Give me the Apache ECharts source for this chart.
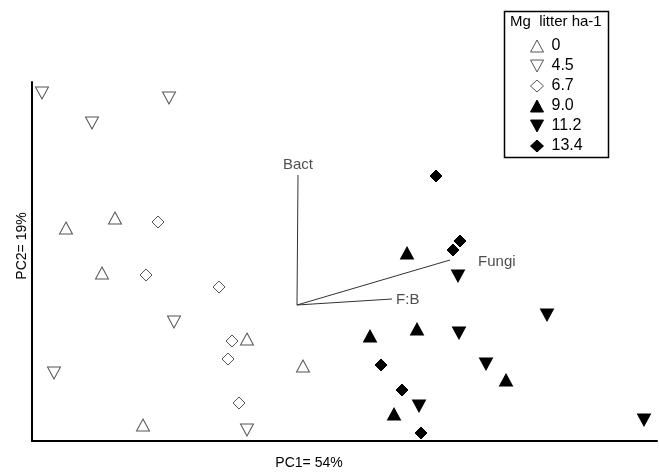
<!DOCTYPE html>
<html>
<head>
<meta charset="utf-8">
<title>PCA biplot</title>
<script src="https://cdn.jsdelivr.net/npm/echarts@6/dist/echarts.min.js"></script>
<style>
  html, body { margin: 0; padding: 0; background: #fff; }
  #chart { width: 659px; height: 474px; }
</style>
</head>
<body>
<div id="chart"></div>
<script>
// Litter treatment groups (Mg litter ha-1) and their PC scores [PC1, PC2]
const groupNames = ['0', '4.5', '6.7', '9.0', '11.2', '13.4'];

const scores0 = [[-2.31, 0.77], [-1.82, 0.87], [-1.95, 0.32], [-0.50, -0.34], [0.06, -0.61], [-1.54, -1.20]];
const scores45 = [[-2.55, 2.12], [-1.28, 2.07], [-2.05, 1.82], [-1.23, -0.17], [-2.43, -0.68], [-0.50, -1.25]];
const scores67 = [[-1.39, 0.83], [-1.51, 0.30], [-0.78, 0.18], [-0.65, -0.36], [-0.69, -0.54], [-0.58, -0.98]];
const scores90 = [[1.10, 0.52], [0.73, -0.31], [1.20, -0.24], [2.09, -0.75], [0.97, -1.09]];
const scores112 = [[1.61, 0.29], [2.50, -0.10], [1.62, -0.28], [1.89, -0.59], [1.22, -1.01], [3.47, -1.15]];
const scores134 = [[1.39, 1.29], [1.63, 0.64], [1.56, 0.55], [0.84, -0.60], [1.05, -0.85], [1.24, -1.28]];

// Loading vectors drawn from the origin
const vectorNames = ['Bact', 'Fungi', 'F:B'];
const vectorEnds = [[0.01, 1.30], [1.53, 0.45], [0.95, 0.06]];

const axisTitleX = 'PC1= 54%';
const axisTitleY = 'PC2= 19%';
const legendTitle = 'Mg  litter ha-1';

const FONT = "'Liberation Sans', Arial, Helvetica, sans-serif";

const DOWN_TRIANGLE = 'path://M0,0L12,0L6,11Z';

const groupStyles = [
  { data: scores0,   symbol: 'triangle', size: [13, 12], rotate: 0,   fill: '#ffffff', stroke: '#555', icon: 'triangle' },
  { data: scores45,  symbol: 'triangle', size: [13, 12], rotate: 180, fill: '#ffffff', stroke: '#555', icon: DOWN_TRIANGLE },
  { data: scores67,  symbol: 'diamond',  size: [12, 12], rotate: 0,   fill: '#ffffff', stroke: '#555', icon: 'diamond' },
  { data: scores90,  symbol: 'triangle', size: [13, 12], rotate: 0,   fill: '#000000', stroke: '#000', icon: 'triangle' },
  { data: scores112, symbol: 'triangle', size: [13, 12], rotate: 180, fill: '#000000', stroke: '#000', icon: DOWN_TRIANGLE },
  { data: scores134, symbol: 'diamond',  size: [12, 12], rotate: 0,   fill: '#000000', stroke: '#000', icon: 'diamond' }
];

const series = [];

// Vector lines
vectorEnds.forEach(function (end, i) {
  series.push({
    name: 'vec-' + vectorNames[i],
    type: 'line',
    data: [[0, 0], end],
    symbol: 'none',
    silent: true,
    lineStyle: { color: '#333', width: 1 },
    z: 1
  });
});

// Vector labels at the line ends
const labelPlacement = [
  { position: 'top', distance: 3, offset: [0, 0] },
  { position: 'right', distance: 28, offset: [0, 2] },
  { position: 'right', distance: 4, offset: [0, 1] }
];
series.push({
  name: 'vector-labels',
  type: 'scatter',
  symbolSize: 0.1,
  itemStyle: { color: 'transparent' },
  silent: true,
  data: vectorEnds.map(function (end, i) {
    return {
      value: end,
      label: {
        show: true,
        formatter: vectorNames[i],
        position: labelPlacement[i].position,
        distance: labelPlacement[i].distance,
        offset: labelPlacement[i].offset,
        color: '#222',
        fontSize: 15,
        fontFamily: FONT
      }
    };
  }),
  z: 2
});

// Treatment groups
groupStyles.forEach(function (g, i) {
  series.push({
    name: groupNames[i],
    type: 'scatter',
    data: g.data,
    symbol: g.symbol,
    symbolSize: g.size,
    symbolRotate: g.rotate,
    itemStyle: { color: g.fill, borderColor: g.stroke, borderWidth: 1, opacity: 1 },
    z: 3
  });
});

const chart = echarts.init(document.getElementById('chart'), null, { renderer: 'canvas' });
chart.setOption({
  animation: false,
  backgroundColor: '#ffffff',
  grid: { left: 32, right: 2, top: 82, bottom: 33 },
  xAxis: {
    type: 'value', min: -2.65, max: 3.60,
    axisLine: { show: true, onZero: false, lineStyle: { color: '#000', width: 2 } },
    axisTick: { show: false }, axisLabel: { show: false }, splitLine: { show: false }
  },
  yAxis: {
    type: 'value', min: -1.36, max: 2.23,
    axisLine: { show: true, onZero: false, lineStyle: { color: '#000', width: 2 } },
    axisTick: { show: false }, axisLabel: { show: false }, splitLine: { show: false }
  },
  legend: {
    data: groupNames.map(function (name, i) {
      return {
        name: name,
        icon: groupStyles[i].icon,
        itemStyle: { color: groupStyles[i].fill, borderColor: groupStyles[i].stroke, borderWidth: 1 }
      };
    }),
    orient: 'vertical',
    left: 530,
    top: 38,
    itemWidth: 13,
    itemHeight: 12,
    itemGap: 4,
    padding: 0,
    selectedMode: false,
    itemStyle: { borderWidth: 1 },
    textStyle: { fontSize: 16, fontFamily: FONT, color: '#000', lineHeight: 16, padding: [0, 0, 0, 3] }
  },
  graphic: [
    {
      type: 'rect', left: 502, top: 9,
      shape: { width: 104, height: 146 },
      style: { fill: 'none', stroke: '#000', lineWidth: 1.5 }
    },
    {
      type: 'text', left: 510, top: 14,
      style: { text: legendTitle, font: '15px ' + FONT, fill: '#000' }
    },
    {
      type: 'text', x: 309, y: 463,
      style: { text: axisTitleX, font: '14px ' + FONT, fill: '#000', textAlign: 'center', textVerticalAlign: 'middle' }
    },
    {
      type: 'text', x: 22, y: 246, rotation: Math.PI / 2,
      style: { text: axisTitleY, font: '14px ' + FONT, fill: '#000', textAlign: 'center', textVerticalAlign: 'middle' }
    }
  ],
  series: series
});
</script>
</body>
</html>
